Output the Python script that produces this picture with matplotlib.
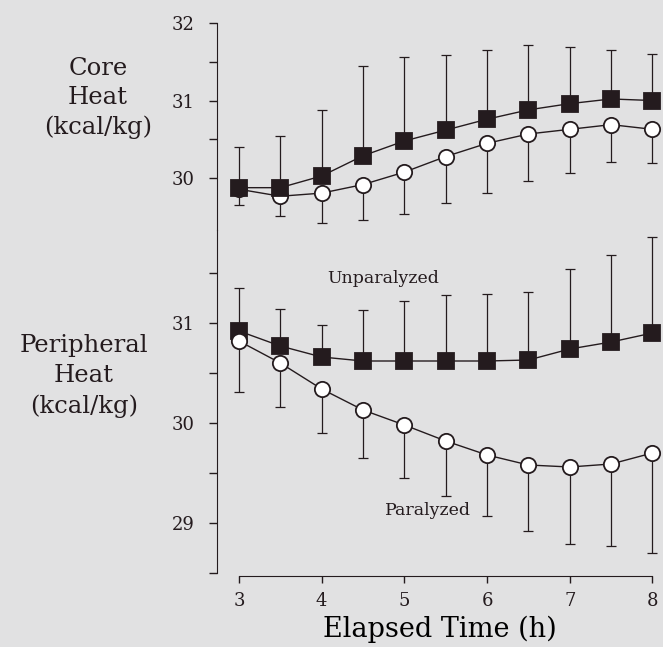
import matplotlib
matplotlib.use("Agg")
import matplotlib.pyplot as plt
import numpy as np

#####################################################################################
# values (kcal/kg), 0.5 h steps

hours = [3, 3.5, 4, 4.5, 5, 5.5, 6, 6.5, 7, 7.5, 8]

core_unpar = [29.88, 29.88, 30.03, 30.29, 30.48, 30.62, 30.76, 30.88, 30.96, 31.02, 31.00]
core_unpar_top = [30.40, 30.55, 30.88, 31.44, 31.56, 31.59, 31.65, 31.71, 31.69, 31.65, 31.60]
core_par = [29.86, 29.77, 29.81, 29.92, 30.08, 30.28, 30.45, 30.57, 30.63, 30.69, 30.63]
core_par_bottom = [29.66, 29.52, 29.42, 29.47, 29.54, 29.68, 29.81, 29.97, 30.07, 30.21, 30.20]

periph_unpar = [30.92, 30.77, 30.66, 30.62, 30.62, 30.62, 30.62, 30.63, 30.74, 30.81, 30.90]
periph_unpar_top = [31.35, 31.14, 30.98, 31.13, 31.22, 31.28, 31.29, 31.31, 31.54, 31.68, 31.86]
periph_par = [30.82, 30.60, 30.34, 30.13, 29.98, 29.82, 29.68, 29.58, 29.56, 29.59, 29.70]
periph_par_bottom = [30.31, 30.16, 29.90, 29.65, 29.45, 29.27, 29.07, 28.92, 28.79, 28.77, 28.70]

x_ticks = [3, 4, 5, 6, 7, 8]

#####################################################################################

ink = "#241b1e"
paper = "#e1e1e2"
serif = ["DejaVu Serif"]

plt.rcParams["font.family"] = serif
plt.rcParams["text.color"] = ink
plt.rcParams["axes.edgecolor"] = ink
plt.rcParams["xtick.color"] = ink
plt.rcParams["ytick.color"] = ink


def draw_series(ax, x, y, limit, upward, marker, face, z):
  y = np.array(y)
  limit = np.array(limit)
  if upward:
    yerr = [np.zeros(len(y)), limit - y]
  else:
    yerr = [y - limit, np.zeros(len(y))]
  ax.errorbar(x, y, yerr=yerr, fmt="none", ecolor=ink, elinewidth=0.9,
              capsize=3.6, capthick=0.9, zorder=z)
  ax.plot(x, y, color=ink, lw=1.0, marker=marker, markersize=11,
          markerfacecolor=face, markeredgecolor=ink, markeredgewidth=1.3,
          zorder=z + 1, clip_on=False)


def style_y(ax, majors, minors):
  ax.set_yticks(majors)
  ax.set_yticks(minors, minor=True)
  ax.tick_params(axis="y", which="both", direction="out", length=6, width=1.0,
                 pad=10, labelsize=13)
  ax.spines["right"].set_visible(False)
  ax.spines["top"].set_visible(False)
  ax.set_facecolor("none")


fig = plt.figure(figsize=(6.63, 6.47), dpi=100)
fig.patch.set_facecolor(paper)

x_left, x_right = 2.735, 8.127

# core heat panel
ax_core = fig.add_axes([0.3273, 0.6445, 0.6727, 0.3204])
ax_core.set_xlim(x_left, x_right)
ax_core.set_ylim(29.336, 32)
draw_series(ax_core, hours, core_par, core_par_bottom, False, "o", "white", 2)
draw_series(ax_core, hours, core_unpar, core_unpar_top, True, "s", ink, 4)
style_y(ax_core, [30, 31, 32], [30.5, 31.5])
ax_core.spines["bottom"].set_visible(False)
ax_core.set_xticks([])

# peripheral heat panel
ax_per = fig.add_axes([0.3273, 0.1144, 0.6727, 0.5301])
ax_per.set_xlim(x_left, x_right)
ax_per.set_ylim(28.5, 31.93)
draw_series(ax_per, hours, periph_unpar, periph_unpar_top, True, "s", ink, 2)
draw_series(ax_per, hours, periph_par, periph_par_bottom, False, "o", "white", 4)
style_y(ax_per, [29, 30, 31], [28.5, 29.5, 30.5, 31.5])

ax_per.spines["bottom"].set_bounds(3, 8)
ax_per.spines["bottom"].set_position(("outward", 2))
ax_per.set_xticks(x_ticks)
ax_per.set_xticklabels([str(t) for t in x_ticks])
ax_per.tick_params(axis="x", direction="out", length=5, width=1.0, pad=7, labelsize=13)
ax_per.set_xlabel("Elapsed Time (h)", fontsize=19.5, labelpad=4)

ax_per.text(4.75, 31.45, "Unparalyzed", fontsize=12.5, ha="center", va="center")
ax_per.text(5.28, 29.12, "Paralyzed", fontsize=12.5, ha="center", va="center")

# stacked axis titles on the left
fig.text(98 / 663, 1 - 98 / 647, "Core\nHeat\n(kcal/kg)", fontsize=17.5,
         ha="center", va="center", linespacing=1.33)
fig.text(84 / 663, 1 - 376 / 647, "Peripheral\nHeat\n(kcal/kg)", fontsize=17.5,
         ha="center", va="center", linespacing=1.4)

fig.savefig("out.png", dpi=100, facecolor=paper)
